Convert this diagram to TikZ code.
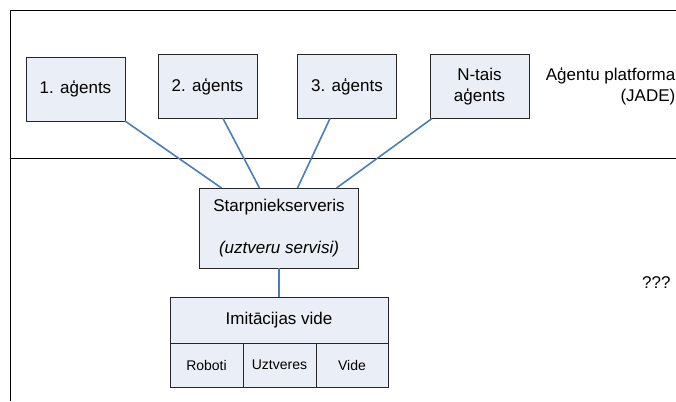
\documentclass[tikz,border=0pt]{standalone}
\usepackage{fontspec}
\setmainfont{Liberation Sans}
\usetikzlibrary{positioning}
\definecolor{boxfill}{RGB}{233,238,247}
\definecolor{linkblue}{RGB}{74,126,187}

\begin{document}
\begin{tikzpicture}[x=1pt, y=-1pt, node distance=29pt,
    box/.style={draw=black!85, fill=boxfill, line width=0.9pt, outer sep=0pt,
                minimum width=99pt, minimum height=64pt, inner sep=0pt,
                align=center, font=\fontsize{17}{21}\selectfont},
    cell/.style={box, minimum height=44pt, font=\fontsize{14}{17}\selectfont},
    frame/.style={draw=black, line width=1.3pt},
    link/.style={draw=linkblue, line width=1.6pt}]
    \useasboundingbox (0,0) rectangle (676,401);
    % platform frame
    \draw[frame] (10.5,401) -- (10.5,10.5) -- (676,10.5);
    \draw[frame] (10.5,158.5) -- (676,158.5);
    \node[anchor=east, align=right, inner sep=0pt, font=\fontsize{17}{21}\selectfont] (plat) at (675.5,86) {Aģentu platforma\\(JADE)};
    \node[anchor=east, font=\fontsize{17}{21}\selectfont] (unk) at (674,283) {???};
    % agents
    \node[box] (ag1) at (75.5,89) {1. aģents};
    \node[box] (ag2) at (207.5,86.5) {2. aģents};
    \node[box] (ag3) at (347,86.5) {3. aģents};
    \node[box] (ag4) at (479.5,86.5) {N-tais\\aģents};
    % middleware and simulation
    \node[box, minimum width=159pt, minimum height=80pt] (srv) at (279,228)
        {Starpniekserveris\\[21pt]\textit{(uztveru servisi)}};
    \node[box, minimum width=218pt, minimum height=46pt, below=of srv] (imit) {Imitācijas vide};
    \node[cell, minimum width=73pt, anchor=north west] (rob) at (imit.south west) {Roboti};
    \node[cell, minimum width=73pt, right=0pt of rob] (uzt) {Uztveres};
    \node[cell, minimum width=72pt, right=0pt of uzt] (vid) {Vide};
    \draw[link] (ag1.south east) -- ([xshift=22pt]srv.north west);
    \draw[link] ([xshift=15.5pt]ag2.south) -- ([xshift=60pt]srv.north west);
    \draw[link] ([xshift=-17pt]ag3.south) -- ([xshift=98pt]srv.north west);
    \draw[link] ([xshift=2pt]ag4.south west) -- ([xshift=137pt]srv.north west);
    \draw[link] (srv) -- (imit);
\end{tikzpicture}
\end{document}
